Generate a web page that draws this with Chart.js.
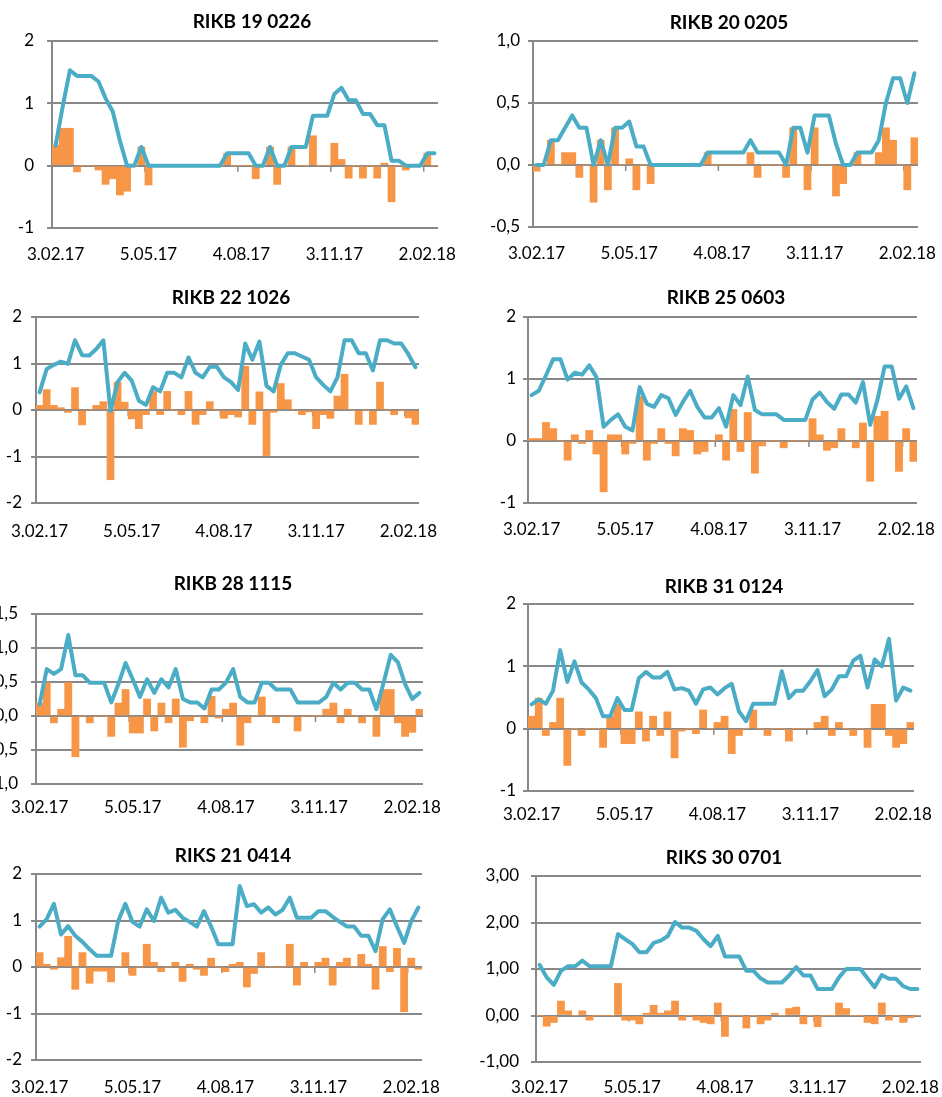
<!DOCTYPE html>
<html>
<head>
<meta charset="utf-8">
<script src="https://cdn.jsdelivr.net/npm/chart.js@4"></script>
<style>
  html, body { margin:0; padding:0; background:#fff; overflow:hidden; }
  body { width:942px; height:1097px; position:relative; }
  canvas { position:absolute; }
</style>
</head>
<body>
<canvas id="c0"></canvas>
<canvas id="c1"></canvas>
<canvas id="c2"></canvas>
<canvas id="c3"></canvas>
<canvas id="c4"></canvas>
<canvas id="c5"></canvas>
<canvas id="c6"></canvas>
<canvas id="c7"></canvas>
<script>
// weekly dates
const weeks = [
  '3.02.17','10.02.17','17.02.17','24.02.17','3.03.17','10.03.17','17.03.17','24.03.17','31.03.17','7.04.17',
  '14.04.17','21.04.17','28.04.17','5.05.17','12.05.17','19.05.17','26.05.17','2.06.17','9.06.17','16.06.17',
  '23.06.17','30.06.17','7.07.17','14.07.17','21.07.17','28.07.17','4.08.17','11.08.17','18.08.17','25.08.17',
  '1.09.17','8.09.17','15.09.17','22.09.17','29.09.17','6.10.17','13.10.17','20.10.17','27.10.17','3.11.17',
  '10.11.17','17.11.17','24.11.17','1.12.17','8.12.17','15.12.17','22.12.17','29.12.17','5.01.18','12.01.18',
  '19.01.18','26.01.18','2.02.18','9.02.18'
];

const rikb19Line = [0.32,0.95,1.53,1.44,1.44,1.44,1.35,1.08,0.87,0.40, 0,0,0.30,0,0,0,0,0,0,0, 0,0,0,0,0.2,0.2,0.2,0.2,0,0, 0.3,0,0,0.3,0.3,0.3,0.8,0.8,0.8,1.15, 1.25,1.05,1.05,0.83,0.83,0.65,0.65,0.08,0.08,0, 0,0,0.2,0.2];
const rikb19Bars = [0.33,0.6,0.6,-0.1,0,0,-0.07,-0.3,-0.21,-0.47, -0.41,0,0.3,-0.31,0,0,0,0,0,0, 0,0,0,0,0.2,0,0,0,-0.21,0, 0.3,-0.3,0,0.3,0,0,0.48,0,0,0.36, 0.1,-0.2,0,-0.2,0,-0.2,0.04,-0.58,0,-0.07, 0,0,0.2,0];

const rikb20Line = [0,0,0.2,0.2,0.3,0.4,0.3,0.3,0,0.2, 0,0.3,0.3,0.35,0.15,0.15,0,0,0,0, 0,0,0,0,0.1,0.1,0.1,0.1,0.1,0.1, 0.2,0.1,0.1,0.1,0.1,0,0.3,0.3,0.1,0.4, 0.4,0.4,0.17,0,0,0.1,0.1,0.1,0.2,0.5, 0.7,0.7,0.5,0.74];
const rikb20Bars = [-0.05,0,0.2,0,0.1,0.1,-0.1,0,-0.3,0.2, -0.2,0.3,0,0.05,-0.2,0,-0.15,0,0,0, 0,0,0,0,0.1,0,0,0,0,0, 0.1,-0.1,0,0,0,-0.1,0.3,0,-0.2,0.3, 0,0,-0.25,-0.15,0,0.1,0,0,0.1,0.3, 0.2,0,-0.2,0.22];

const rikb22Line = [0.38,0.88,0.97,1.04,0.99,1.5,1.18,1.17,1.31,1.5, -0.02,0.6,0.8,0.63,0.2,0.11,0.49,0.4,0.8,0.8, 0.7,1.13,0.8,0.7,0.93,0.93,0.7,0.6,0.43,1.43, 1.08,1.47,0.52,0.4,0.97,1.22,1.22,1.15,1.08,0.7, 0.54,0.4,0.7,1.5,1.5,1.22,1.22,0.85,1.5,1.5, 1.43,1.43,1.2,0.92];
const rikb22Bars = [0.1,0.44,0.1,0.05,-0.05,0.48,-0.32,0,0.1,0.18, -1.5,0.6,0.17,-0.19,-0.4,-0.1,0.4,-0.1,0.4,0, -0.1,0.4,-0.31,-0.1,0.18,0,-0.18,-0.1,-0.15,0.94, -0.31,0.39,-0.98,-0.05,0.57,0.22,0,-0.1,-0.04,-0.4, -0.1,-0.18,0.3,0.77,0,-0.31,0,-0.31,0.6,0, -0.1,0,-0.17,-0.31];

const rikb25Line = [0.74,0.81,1.06,1.32,1.32,0.99,1.1,1.07,1.22,1.03, 0.23,0.34,0.43,0.23,0.17,0.87,0.6,0.55,0.74,0.69, 0.42,0.63,0.81,0.55,0.38,0.38,0.53,0.23,0.74,0.58, 1.04,0.5,0.43,0.43,0.43,0.34,0.34,0.34,0.34,0.67, 0.78,0.63,0.52,0.75,0.75,0.62,0.95,0.26,0.66,1.2, 1.2,0.68,0.88,0.53];
const rikb25Bars = [0.04,0.04,0.3,0.2,0,-0.31,0.1,-0.04,0.17,-0.21, -0.82,0.1,0.1,-0.21,-0.04,0.72,-0.31,-0.04,0.2,-0.04, -0.24,0.2,0.17,-0.21,-0.17,0,0.1,-0.31,0.51,-0.17, 0.46,-0.52,-0.08,0,0,-0.11,0,0,0,0.36, 0.1,-0.15,-0.11,0.2,0,-0.11,0.29,-0.65,0.4,0.48, 0,-0.49,0.2,-0.33];

const rikb28Line = [0.17,0.69,0.62,0.69,1.19,0.6,0.6,0.49,0.49,0.49, 0.2,0.47,0.78,0.54,0.28,0.54,0.34,0.54,0.42,0.69, 0.25,0.2,0.2,0.11,0.39,0.39,0.49,0.69,0.28,0.2, 0.2,0.49,0.49,0.39,0.39,0.39,0.2,0.2,0.2,0.2, 0.28,0.49,0.39,0.49,0.49,0.39,0.39,0.1,0.49,0.9, 0.79,0.47,0.25,0.34];
const rikb28Bars = [0.19,0.49,-0.1,0.1,0.49,-0.6,0,-0.1,0,0, -0.3,0.19,0.39,-0.25,-0.25,0.25,-0.22,0.19,-0.1,0.25, -0.46,-0.07,0,-0.1,0.29,-0.03,0.1,0.19,-0.43,-0.1, 0,0.28,0,-0.1,0,0,-0.22,0,0,0, 0.1,0.19,-0.1,0.1,0,-0.1,0,-0.3,0.39,0.39, -0.1,-0.3,-0.24,0.1];

const rikb31Line = [0.39,0.47,0.4,0.61,1.26,0.75,1.08,0.74,0.63,0.49, 0.2,0.2,0.49,0.3,0.3,0.81,0.91,0.82,0.82,0.91, 0.63,0.65,0.61,0.4,0.63,0.66,0.55,0.65,0.72,0.28, 0.12,0.4,0.4,0.4,0.4,0.92,0.49,0.61,0.61,0.76, 0.94,0.52,0.63,0.84,0.84,1.09,1.17,0.66,1.11,1.0, 1.44,0.45,0.66,0.61];
const rikb31Bars = [0.2,0.49,-0.11,0.1,0.49,-0.59,0,-0.11,0,0, -0.3,0.2,0.39,-0.24,-0.24,0.27,-0.2,0.2,-0.11,0.27, -0.47,-0.04,0,-0.08,0.3,0,0.1,0.2,-0.4,-0.11, 0,0.3,0,-0.11,0,0,-0.2,0,0,0, 0.1,0.2,-0.11,0.1,0,-0.11,0,-0.3,0.39,0.39, -0.11,-0.3,-0.24,0.1];

const riks21Line = [0.87,1.03,1.36,0.7,0.88,0.67,0.54,0.38,0.24,0.24, 0.24,0.99,1.36,0.97,0.87,1.24,0.99,1.49,1.17,1.23, 1.06,0.97,0.87,1.2,0.87,0.49,0.49,0.49,1.74,1.31, 1.35,1.17,1.28,1.13,1.23,1.49,1.06,1.06,1.06,1.2, 1.2,1.08,0.97,0.87,0.87,0.67,0.67,0.34,1.03,1.24, 0.87,0.52,0.99,1.28];
const riks21Bars = [0.31,0.06,-0.05,0.2,0.66,-0.48,0.31,-0.35,-0.09,-0.09, -0.32,0,0.31,-0.18,0,0.49,0.1,-0.1,0,0.1, -0.31,0.06,-0.05,-0.18,0.19,0,-0.1,0.06,0.1,-0.43, -0.14,0.31,0,0,0,0.49,-0.39,0.1,0,0.1, 0.19,-0.39,0.1,0.19,0,0.27,0.06,-0.48,0.44,-0.1, 0.4,-0.96,0.19,-0.05];

const riks30Line = [1.09,0.82,0.66,0.96,1.06,1.06,1.18,1.06,1.06,1.06, 1.06,1.75,1.64,1.54,1.36,1.36,1.56,1.61,1.71,2.01, 1.89,1.89,1.82,1.64,1.49,1.71,1.27,1.27,1.27,0.96, 0.96,0.8,0.71,0.71,0.71,0.86,1.04,0.86,0.86,0.57, 0.57,0.57,0.82,1.0,1.0,1.0,0.8,0.61,0.87,0.79, 0.79,0.63,0.57,0.57];
const riks30Bars = [0,-0.23,-0.15,0.31,0.1,0,0.1,-0.1,0,0, 0,0.69,-0.1,-0.1,-0.18,0.05,0.22,0.05,0.1,0.31, -0.1,0,-0.1,-0.15,-0.18,0.27,-0.45,0,0,-0.27, 0,-0.18,-0.1,0.05,0,0.15,0.18,-0.18,0,-0.24, 0,0,0.27,0.15,0,0,-0.15,-0.18,0.27,-0.1, 0,-0.15,-0.05,0];

const panels = [
  { title:'RIKB 19 0226', line:rikb19Line, bars:rikb19Bars, min:-1,   max:2,   step:1,   dec:0 },
  { title:'RIKB 20 0205', line:rikb20Line, bars:rikb20Bars, min:-0.5, max:1,   step:0.5, dec:1 },
  { title:'RIKB 22 1026', line:rikb22Line, bars:rikb22Bars, min:-2,   max:2,   step:1,   dec:0 },
  { title:'RIKB 25 0603', line:rikb25Line, bars:rikb25Bars, min:-1,   max:2,   step:1,   dec:0 },
  { title:'RIKB 28 1115', line:rikb28Line, bars:rikb28Bars, min:-1,   max:1.5, step:0.5, dec:1 },
  { title:'RIKB 31 0124', line:rikb31Line, bars:rikb31Bars, min:-1,   max:2,   step:1,   dec:0 },
  { title:'RIKS 21 0414', line:riks21Line, bars:riks21Bars, min:-2,   max:2,   step:1,   dec:0 },
  { title:'RIKS 30 0701', line:riks30Line, bars:riks30Bars, min:-1,   max:3,   step:1,   dec:2 }
];

// plot area of each panel on the page (l/t/r/b), title and date label centre lines
const boxes = [
  { l:52,  t:41,  r:438, b:228,  titleY:21,  titleDx:7,    labelY:255,  yPad:13 },
  { l:533, t:41,  r:918, b:227,  titleY:22,  titleDx:3.5,  labelY:254,  yPad:8 },
  { l:36,  t:317, r:419, b:503,  titleY:297, titleDx:3.5,  labelY:532,  yPad:9 },
  { l:528, t:317, r:917, b:503,  titleY:297, titleDx:3.5,  labelY:530,  yPad:7 },
  { l:36,  t:614, r:423, b:784,  titleY:583, titleDx:3.5,  labelY:808,  yPad:13 },
  { l:528, t:604, r:914, b:791,  titleY:586, titleDx:3,    labelY:815,  yPad:7 },
  { l:36,  t:874, r:422, b:1060, titleY:855, titleDx:4,    labelY:1088, yPad:9 },
  { l:536, t:876, r:921, b:1062, titleY:857, titleDx:-4.5, labelY:1088, yPad:12 }
];

const Y_W = 60, PAD_R = 34, X_H = 40;
const TITLE_SIZE = 19, TICK_SIZE = 17;
const FONT = 'Lato';
const GRID = '#888888';

// short tick marks hanging off the zero line every 13 weeks
const zeroTicks = {
  id: 'zeroTicks',
  beforeDatasetsDraw(chart) {
    const { ctx, scales: { x, y } } = chart;
    const half = (x.getPixelForValue(1) - x.getPixelForValue(0)) / 2;
    const y0 = y.getPixelForValue(0);
    ctx.save();
    ctx.strokeStyle = GRID;
    ctx.lineWidth = 1.5;
    for (let k = 13; k < weeks.length; k += 13) {
      const px = x.getPixelForValue(k) - half;
      ctx.beginPath();
      ctx.moveTo(px, y0);
      ctx.lineTo(px, y0 + 6);
      ctx.stroke();
    }
    ctx.restore();
  }
};

// nudge the title sideways after layout
const titleShift = {
  id: 'titleShift',
  afterLayout(chart, args, opts) {
    const t = chart.titleBlock;
    if (t && opts.dx) { t.left += opts.dx; t.right += opts.dx; }
  }
};

panels.forEach((p, i) => {
  const b = boxes[i];
  const canvas = document.getElementById('c' + i);
  const lh = TITLE_SIZE * 1.2;
  const top = Math.round(b.titleY - lh / 2);
  canvas.width = Y_W + (b.r - b.l) + PAD_R;
  canvas.height = b.b - top + X_H;
  canvas.style.left = (b.l - Y_W) + 'px';
  canvas.style.top = top + 'px';

  new Chart(canvas, {
    type: 'bar',
    data: {
      labels: weeks,
      datasets: [
        { type:'line', data:p.line, borderColor:'#4BACC6', borderWidth:4, pointRadius:0,
          tension:0, borderJoinStyle:'round', borderCapStyle:'round', order:0 },
        { type:'bar', data:p.bars, backgroundColor:'#F79646', borderWidth:0,
          barPercentage:1, categoryPercentage:1, order:1 }
      ]
    },
    options: {
      responsive: false,
      animation: false,
      layout: { padding: { left:0, right:PAD_R, top:0, bottom:0 } },
      plugins: {
        legend: { display:false },
        tooltip: { enabled:false },
        titleShift: { dx: b.titleDx },
        title: {
          display: true, text: p.title, fullSize: false, color: '#000',
          font: { family:FONT, size:TITLE_SIZE, weight:'bold' },
          padding: { top:0, bottom: b.t - top - lh }
        }
      },
      scales: {
        x: {
          grid: { display:false, drawTicks:false },
          border: { display:false },
          ticks: {
            autoSkip: false, maxRotation: 0, color: '#000',
            padding: b.labelY - b.b - TICK_SIZE * 0.6,
            font: { family:FONT, size:TICK_SIZE },
            callback: (v, idx) => idx % 13 === 0 ? weeks[idx] : ''
          },
          afterFit: s => { s.height = X_H; }
        },
        y: {
          min: p.min, max: p.max,
          grid: { color:GRID, lineWidth:2, tickLength:5 },
          border: { color:GRID, width:2 },
          ticks: {
            stepSize: p.step, padding: b.yPad, color: '#000',
            font: { family:FONT, size:TICK_SIZE },
            callback: v => v.toFixed(p.dec).replace('.', ',')
          },
          afterFit: s => { s.width = Y_W; }
        }
      }
    },
    plugins: [zeroTicks, titleShift]
  });
});
</script>
</body>
</html>
